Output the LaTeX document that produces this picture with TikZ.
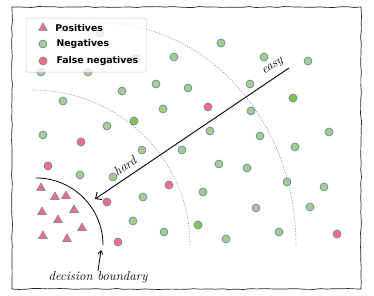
\documentclass[tikz,border=0pt]{standalone}
\usepackage{fontspec}
\newfontfamily\legendfont{DejaVu Sans}
\usetikzlibrary{shapes.geometric, arrows.meta, positioning, decorations.pathmorphing}
\definecolor{bordo}{RGB}{95,120,170}
\definecolor{verde}{RGB}{162,206,138}
\definecolor{verdevivo}{RGB}{128,200,72}
\definecolor{rosso}{RGB}{244,112,124}
\definecolor{zona}{RGB}{120,150,220}
\tikzset{
  negative/.style   = {circle, draw=bordo, line width=0.6pt, fill=verde, minimum size=8pt, inner sep=0pt},
  brightneg/.style  = {negative, fill=verdevivo},
  falseneg/.style   = {negative, fill=rosso},
  positive/.style   = {regular polygon, regular polygon sides=3, draw=bordo, line width=0.5pt, fill=rosso, minimum size=10pt, inner sep=0pt},
  region/.style     = {draw=zona, line width=0.6pt, dash pattern=on 1.2pt off 1.4pt},
  boundary/.style   = {line width=0.8pt},
  difficulty/.style = {line width=0.9pt, -{Straight Barb[length=5pt, width=9pt]}},
  pointer/.style    = {line width=0.8pt, -{Straight Barb[length=3.5pt, width=5pt]}},
  hand/.style       = {font=\itshape\fontsize{13}{15}\selectfont, inner sep=0pt},
  legendbox/.style  = {rectangle, draw=black!20, fill=white, fill opacity=0.8, rounded corners=1.5pt, minimum width=120pt, minimum height=54pt},
  legendtext/.style = {font=\legendfont\bfseries\fontsize{9.3}{11}\selectfont, inner sep=0pt, anchor=west},
  frame/.style      = {line width=0.7pt, black!85, decorate, decoration={random steps, segment length=7pt, amplitude=0.5pt}}
}

\begin{document}
\begin{tikzpicture}[x=1pt, y=-1pt]
  \useasboundingbox (0,0) rectangle (374,296);

  \draw[frame] (12,7) rectangle (361,289);

  % easy / hard regions (dashed)
  \draw[region] (100,23) arc[start angle=90, end angle=0, x radius=196pt, y radius=222pt];
  \draw[region] (32,90) arc[start angle=90, end angle=0, x radius=158pt, y radius=155pt];

  % decision boundary
  \draw[boundary] (36,178) arc[start angle=90, end angle=0, radius=67pt];

  % negatives (green)
  \foreach \p [count=\i] in {(100,33), (174,57), (41,72), (88,72), (156,84), (188,88),
      (122,91), (63,101), (163,109), (107,126), (43,135), (142,150), (182,150),
      (80,175), (113,177), (143,197), (133,221), (164,232), (221,43), (264,57),
      (308,61), (250,84), (251,111), (210,131), (260,136), (329,132), (295,147),
      (219,164), (247,168), (287,182), (324,187), (203,192), (256,208), (310,207),
      (226,239), (279,232)}
    \node[negative] (neg\i) at \p {};
  \foreach \p [count=\i] in {(134,121), (293,98), (198,225)}
    \node[brightneg] (vivo\i) at \p {};

  % false negatives (red)
  \foreach \p [count=\i] in {(136,59), (81,142), (48,166), (169,185), (107,202),
      (118,242), (208,107), (337,234)}
    \node[falseneg] (fn\i) at \p {};

  % positives (triangles)
  \foreach \p [count=\i] in {(41,188), (55,197), (66,196), (42,212), (74,210),
      (58,220), (82,228), (43,236), (67,239)}
    \node[positive] (pos\i) at \p {};

  % easy -> hard
  \coordinate (easytail) at (289,68);
  \coordinate (hardhead) at (95,199);
  \draw[difficulty] (easytail) -- (hardhead);
  \node[hand, rotate=34] (easy) at (273,67) {easy};
  \node[hand, rotate=34] (hard) at (125,166) {hard};

  \node[hand] (dblabel) at (98,277) {decision boundary};
  \coordinate (dbtip) at (101,250);
  \draw[pointer] (dblabel.north) -- (dbtip);

  % legend
  \node[legendbox, anchor=north west] (legend) at (26,18) {};
  \node[positive] (lpos) at (43,28) {};
  \node[negative] (lneg) at (43,44) {};
  \node[falseneg] (lfn)  at (43,61) {};
  \node[legendtext, right=9pt of lpos] (tpos) {Positives};
  \node[legendtext, right=9pt of lneg] (tneg) {Negatives};
  \node[legendtext, right=9pt of lfn]  (tfn)  {False negatives};

\end{tikzpicture}
\end{document}
